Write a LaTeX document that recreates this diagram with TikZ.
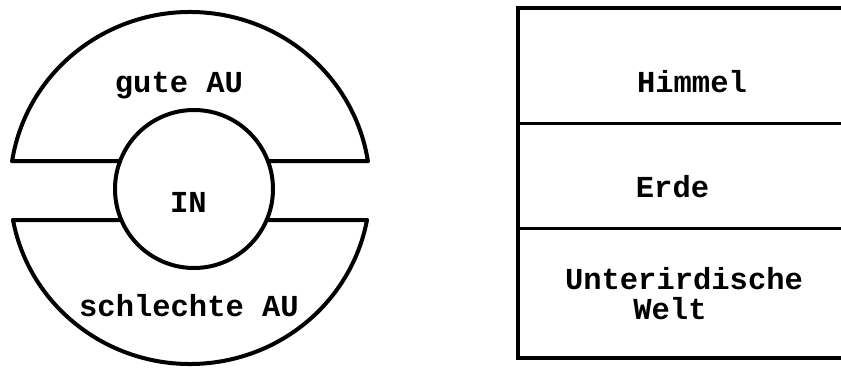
\documentclass[tikz,border=0pt]{standalone}
\usepackage{fontspec}
\setmonofont{Liberation Mono}
\tikzset{
  outline/.style={line width=4pt, line join=round, line cap=round},
  boxline/.style={line width=4pt},
  divline/.style={line width=3pt},
  label/.style={font=\ttfamily\bfseries\fontsize{30.5}{30}\selectfont, inner sep=0pt, anchor=base}
}
\begin{document}
\begin{tikzpicture}[x=1pt,y=1pt]
\useasboundingbox (0,0) rectangle (841,367);
\coordinate (oc) at (190,179);
\coordinate (ic) at (194,178);
\draw[outline] (oc) ++(171.2:180 and 176) coordinate (ul)
  arc[start angle=171.2, end angle=8.8, x radius=180, y radius=176] coordinate (ur);
\draw[outline] (oc) ++(190.5:180 and 176) coordinate (ll)
  arc[start angle=190.5, end angle=349.5, x radius=180, y radius=176] coordinate (lr);
\draw[outline] (ic) circle[radius=79];
\coordinate (iul) at (120.1,206);
\coordinate (iur) at (267.9,206);
\coordinate (ill) at (121.3,147);
\coordinate (ilr) at (266.7,147);
\draw[outline] (ul) -- (iul);
\draw[outline] (iur) -- (ur);
\draw[outline] (ll) -- (ill);
\draw[outline] (ilr) -- (lr);
\node[label] (gute) at (179,274) {gute AU};
\node[label] (in) at (188.5,154) {IN};
\node[label] (schlecht) at (189,50) {schlechte AU};
\coordinate (tr) at (841,359);
\coordinate (tl) at (518,359);
\coordinate (bl) at (518,9);
\coordinate (br) at (841,9);
\draw[boxline] (tr) -- (tl) -- (bl) -- (br);
\coordinate (d1l) at (518,243);
\coordinate (d1r) at (841,243);
\coordinate (d2l) at (518,138);
\coordinate (d2r) at (841,138);
\draw[divline] (d1l) -- (d1r);
\draw[divline] (d2l) -- (d2r);
\node[label] (himmel) at (692,274) {Himmel};
\node[label] (erde) at (672.5,169) {Erde};
\node[label, align=center] (unter) at (684,47) {Unterirdische\\Welt\hspace*{28pt}};
\end{tikzpicture}
\end{document}
